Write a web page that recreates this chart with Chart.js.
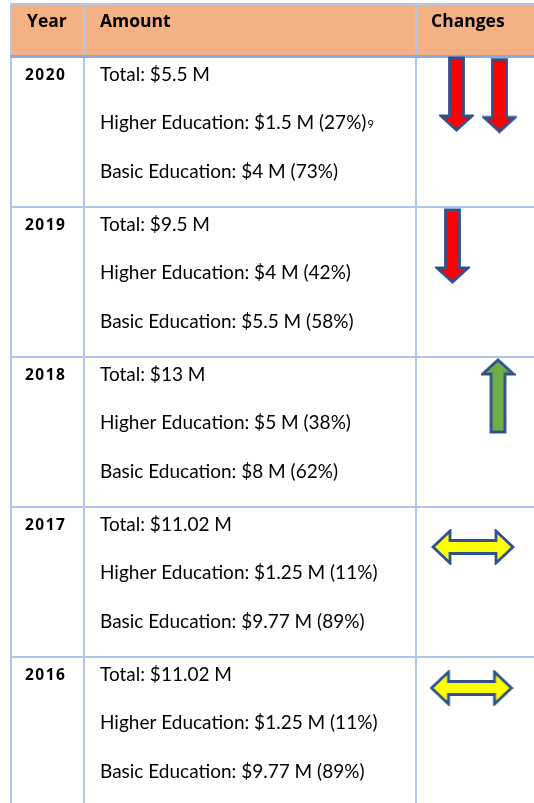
<!DOCTYPE html>
<html>
<head>
<meta charset="utf-8">
<script src="https://cdn.jsdelivr.net/npm/chart.js@4"></script>
<style>
  html, body { margin: 0; padding: 0; background: #ffffff; }
  canvas { display: block; }
</style>
</head>
<body>
<canvas id="tbl" width="534" height="803"></canvas>
<script>
// table data, one row per year (newest first)
const years = ["2020", "2019", "2018", "2017", "2016"];
const totals = ["$5.5 M", "$9.5 M", "$13 M", "$11.02 M", "$11.02 M"];
const higherAmounts = ["$1.5 M", "$4 M", "$5 M", "$1.25 M", "$1.25 M"];
const higherPct = [27, 42, 38, 11, 11];
const basicAmounts = ["$4 M", "$5.5 M", "$8 M", "$9.77 M", "$9.77 M"];
const basicPct = [73, 58, 62, 89, 89];
const footnotes = ["9", "", "", "", ""];
const changes = [["down", "down"], ["down"], ["up"], ["both"], ["both"]];
const headers = ["Year", "Amount", "Changes"];

// layout (pixels)
const ROW_H = 150;
const colX = [11, 84, 416];
const headerTop = 4;
const arrowSpots = [[{ x: 456.5, dy: 37 }, { x: 499.5, dy: 38.5 }], [{ x: 452.5, dy: 39 }], [{ x: 498, dy: 39 }], [{ x: 473, dy: 40 }], [{ x: 471.5, dy: 31 }]];

const GRID = "#b4c6e7";
const OUTLINE = "#2f528f";
const FONT = "Lato, 'Open Sans', sans-serif";
const HEAD_FONT = "'Open Sans', Lato, sans-serif";

function arrowImage(kind) {
  const c = document.createElement("canvas");
  const g = c.getContext("2d");
  let pts, fill;
  if (kind === "both") {
    c.width = 84; c.height = 36;
    const L = 2, R = 82, cy = 18, hh = 16, sh = 6.5, hl = 17;
    pts = [[L, cy], [L + hl, cy - hh], [L + hl, cy - sh], [R - hl, cy - sh], [R - hl, cy - hh], [R, cy], [R - hl, cy + hh], [R - hl, cy + sh], [L + hl, cy + sh], [L + hl, cy + hh]];
    fill = "#ffff00";
  } else {
    c.width = 35; c.height = 76;
    const cx = 17.5, T = 2, B = 74, hw = 15.5, sw = 7, hl = 14;
    pts = [[cx - sw, T], [cx + sw, T], [cx + sw, B - hl], [cx + hw, B - hl], [cx, B], [cx - hw, B - hl], [cx - sw, B - hl]];
    if (kind === "up") pts = pts.map(p => [p[0], 76 - p[1]]);
    fill = kind === "up" ? "#70ad47" : "#ff0000";
  }
  g.beginPath();
  pts.forEach((p, i) => i ? g.lineTo(p[0], p[1]) : g.moveTo(p[0], p[1]));
  g.closePath();
  g.fillStyle = fill;
  g.fill();
  g.lineWidth = 2.8;
  g.lineJoin = "miter";
  g.strokeStyle = OUTLINE;
  g.stroke();
  return c;
}
const images = { down: arrowImage("down"), up: arrowImage("up"), both: arrowImage("both") };

const arrowPoints = [];
changes.forEach((list, row) => {
  list.forEach((dir, k) => {
    const spot = arrowSpots[row][k];
    arrowPoints.push({ x: spot.x, y: row + spot.dy / ROW_H, dir: dir });
  });
});

const tablePlugin = {
  id: "tablePlugin",
  beforeDatasetsDraw(chart) {
    const { ctx } = chart;
    const xs = chart.scales.x, ys = chart.scales.y;
    const W = chart.width, H = chart.height;
    const rowTop = i => ys.getPixelForValue(i);
    const x0 = xs.getPixelForValue(colX[0]);
    ctx.save();
    // header band
    ctx.fillStyle = "#f4b183";
    ctx.fillRect(x0, headerTop, W - x0, rowTop(0) - headerTop);
    // grid
    ctx.fillStyle = GRID;
    ctx.fillRect(x0 - 1, headerTop - 1, W - x0 + 1, 2);
    colX.forEach(cx => ctx.fillRect(xs.getPixelForValue(cx) - 1, headerTop - 1, 2, H));
    for (let i = 1; i < years.length; i++) ctx.fillRect(x0 - 1, rowTop(i) - 1, W, 2);
    ctx.fillStyle = "#8eaadb";
    ctx.fillRect(x0 - 1, rowTop(0) - 2, W, 3);

    // header text
    ctx.fillStyle = "#000";
    ctx.textBaseline = "alphabetic";
    ctx.font = "bold 17.5px " + HEAD_FONT;
    ctx.fillText(headers[0], xs.getPixelForValue(27), 27);
    ctx.fillText(headers[1], xs.getPixelForValue(100), 27);
    ctx.fillText(headers[2], xs.getPixelForValue(431), 27);

    years.forEach((yr, i) => {
      const top = rowTop(i);
      ctx.font = "bold 15.5px " + HEAD_FONT;
      ctx.letterSpacing = "1.5px";
      ctx.fillText(yr, xs.getPixelForValue(25), top + 23);
      ctx.letterSpacing = "0px";
      ctx.font = "19px " + FONT;
      const tx = xs.getPixelForValue(100);
      ctx.fillText("Total: " + totals[i], tx, top + 24);
      const hi = "Higher Education: " + higherAmounts[i] + " (" + higherPct[i] + "%)";
      ctx.fillText(hi, tx, top + 72);
      if (footnotes[i]) {
        const w = ctx.measureText(hi).width;
        ctx.font = "11px " + FONT;
        ctx.fillText(footnotes[i], tx + w + 1, top + 71);
        ctx.font = "19px " + FONT;
      }
      ctx.fillText("Basic Education: " + basicAmounts[i] + " (" + basicPct[i] + "%)", tx, top + 121);
    });
    ctx.restore();
  }
};

new Chart(document.getElementById("tbl"), {
  type: "scatter",
  data: {
    datasets: [
      {
        label: "Changes",
        data: arrowPoints,
        pointStyle: c => images[c.raw ? c.raw.dir : "down"],
        pointRadius: 20,
        pointHoverRadius: 20,
      },
    ],
  },
  options: {
    responsive: false,
    devicePixelRatio: 1,
    animation: false,
    events: [],
    layout: { padding: 0, autoPadding: false },
    scales: {
      x: { type: "linear", display: false, min: 0, max: 534 },
      y: { type: "linear", display: false, min: -57 / ROW_H, max: (803 - 57) / ROW_H, reverse: true },
    },
    plugins: {
      legend: { display: false },
      tooltip: { enabled: false },
    },
  },
  plugins: [tablePlugin],
});
</script>
</body>
</html>
